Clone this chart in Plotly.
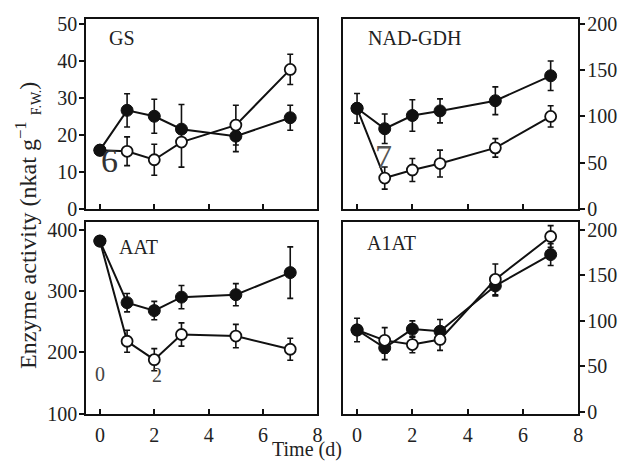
import plotly.graph_objects as go

days = [0, 1, 2, 3, 5, 7]

# GS
gs_filled = [15.9, 26.7, 25.1, 21.6, 19.7, 24.7]
gs_filled_err = [0, 4.5, 4.6, 0, 4.2, 3.4]
gs_open = [15.9, 15.6, 13.3, 18.1, 22.7, 37.8]
gs_open_err_plus = [0, 3.9, 4.2, 10.2, 5.4, 4.1]
gs_open_err_minus = [0, 3.9, 4.2, 6.8, 5.4, 4.1]

# NAD-GDH
gdh_filled = [108.8, 86.7, 101, 106, 117, 144]
gdh_filled_err = [16, 16, 17, 13, 15, 16]
gdh_open = [108.8, 33.3, 42, 49, 66, 100]
gdh_open_err = [0, 12, 12.5, 14.5, 10, 11.5]

# AAT
aat_filled = [381.5, 281, 268, 290, 294, 330]
aat_filled_err = [0, 15, 15, 19, 18, 42]
aat_open = [381.5, 218, 188, 229, 226.5, 205]
aat_open_err = [0, 18, 18, 19, 19, 18]

# A1AT
a1at_filled = [90, 70.4, 91, 88.6, 138.6, 173]
a1at_filled_err = [13, 13, 9, 13, 11, 12]
a1at_open = [90, 78.6, 74, 79.6, 145.7, 192.9]
a1at_open_err = [0, 14, 9, 12, 17, 12]

panel_names = ["GS", "NAD-GDH", "AAT", "A1AT"]
x_ticks = [0, 2, 4, 6, 8]
y_ticks = [[0, 10, 20, 30, 40, 50], [0, 50, 100, 150, 200],
           [100, 200, 300, 400], [0, 50, 100, 150, 200]]
y_ranges = [[0, 51.6], [0, 206], [100, 412], [-2, 208.5]]

FONT = "Liberation Serif"
BLACK = "#111111"
TXT = "#222222"

fig = go.Figure()

panels = [
    (gs_filled, dict(type="data", array=gs_filled_err), gs_open,
     dict(type="data", array=gs_open_err_plus, arrayminus=gs_open_err_minus)),
    (gdh_filled, dict(type="data", array=gdh_filled_err), gdh_open,
     dict(type="data", array=gdh_open_err)),
    (aat_filled, dict(type="data", array=aat_filled_err), aat_open,
     dict(type="data", array=aat_open_err)),
    (a1at_filled, dict(type="data", array=a1at_filled_err), a1at_open,
     dict(type="data", array=a1at_open_err)),
]

for i, (fy, fe, oy, oe) in enumerate(panels):
    xa = "x" if i == 0 else f"x{i+1}"
    ya = "y" if i == 0 else f"y{i+1}"
    for e in (fe, oe):
        e.update(color=BLACK, thickness=1.6, width=3)
    fig.add_trace(go.Scatter(
        x=days, y=fy, error_y=fe, mode="lines+markers", xaxis=xa, yaxis=ya,
        line=dict(color=BLACK, width=2),
        marker=dict(symbol="circle", size=12, color=BLACK, line=dict(color=BLACK, width=1)),
        showlegend=False, cliponaxis=False))
    fig.add_trace(go.Scatter(
        x=days, y=oy, error_y=oe, mode="lines+markers", xaxis=xa, yaxis=ya,
        line=dict(color=BLACK, width=2),
        marker=dict(symbol="circle", size=11, color="white", line=dict(color=BLACK, width=1.8)),
        showlegend=False, cliponaxis=False))
    # shared day-0 point drawn on top as filled
    fig.add_trace(go.Scatter(
        x=days[:1], y=fy[:1], mode="markers", xaxis=xa, yaxis=ya,
        marker=dict(symbol="circle", size=12, color=BLACK),
        showlegend=False, cliponaxis=False))

W, H = 623, 470
col_dom = [[87 / W, 320 / W], [346 / W, 583 / W]]
row_dom = [[1 - 211 / H, 1 - 14 / H], [1 - 423 / H, 1 - 225 / H]]

layout = dict(
    width=W, height=H, margin=dict(l=0, r=0, t=0, b=0),
    paper_bgcolor="white", plot_bgcolor="white",
    font=dict(family=FONT, size=20, color=TXT),
    showlegend=False,
)

for i in range(4):
    r, c = divmod(i, 2)
    xk = "xaxis" if i == 0 else f"xaxis{i+1}"
    yk = "yaxis" if i == 0 else f"yaxis{i+1}"
    xa = "x" if i == 0 else f"x{i+1}"
    ya = "y" if i == 0 else f"y{i+1}"
    layout[xk] = dict(
        domain=col_dom[c], anchor=ya, range=[-0.5, 8], tickvals=x_ticks,
        ticks="inside", ticklen=5, tickwidth=1.5, tickcolor=BLACK,
        showline=True, linecolor=BLACK, linewidth=2, mirror=True,
        showgrid=False, zeroline=False, showticklabels=(r == 1),
        ticklabelstandoff=2,
        tickfont=dict(family=FONT, size=20, color=TXT))
    layout[yk] = dict(
        domain=row_dom[r], anchor=xa, range=y_ranges[i], tickvals=y_ticks[i],
        side="left" if c == 0 else "right",
        ticks="outside", ticklen=5, tickwidth=1.5, tickcolor=BLACK,
        showline=True, linecolor=BLACK, linewidth=2, mirror=True,
        showgrid=False, zeroline=False, ticklabelstandoff=-2,
        tickfont=dict(family=FONT, size=20, color=TXT))

fig.update_layout(**layout)

label_pos = [(0.09, 0.90), (0.097, 0.90), (0.132, 0.869), (0.093, 0.893)]
for i, name in enumerate(panel_names):
    xa = "x" if i == 0 else f"x{i+1}"
    ya = "y" if i == 0 else f"y{i+1}"
    fig.add_annotation(text=name, xref=f"{xa} domain", yref=f"{ya} domain",
                       x=label_pos[i][0], y=label_pos[i][1], xanchor="left", yanchor="middle",
                       showarrow=False, font=dict(family=FONT, size=20, color=TXT))

# axis titles
fig.add_annotation(text="Enzyme activity (nkat g<sup>\u22121</sup> <sub><span style='font-size:14px'>F.W.</span></sub>)",
                   xref="paper", yref="paper", x=27 / W, y=1 - 228 / H, textangle=-90,
                   xanchor="center", yanchor="middle", showarrow=False,
                   font=dict(family=FONT, size=24, color=TXT))
fig.add_annotation(text="Time (d)", xref="paper", yref="paper", x=309 / W, y=0,
                   xanchor="center", yanchor="bottom", yshift=-4, showarrow=False,
                   font=dict(family=FONT, size=20, color=TXT))

# stray figure-scan labels visible in the reference
strays = [("6", 110, 161, 34, "#333333"), ("7", 387, 157, 34, "#555555"),
          ("0", 101, 382, 20, "#444444"), ("2", 158, 383, 20, "#444444")]
for t, px, py, sz, col in strays:
    fig.add_annotation(text=t, xref="paper", yref="paper", x=px / W, y=1 - py / H,
                       xanchor="center", yanchor="middle", showarrow=False,
                       font=dict(family=FONT, size=sz, color=col))

fig.write_html("out.html")
